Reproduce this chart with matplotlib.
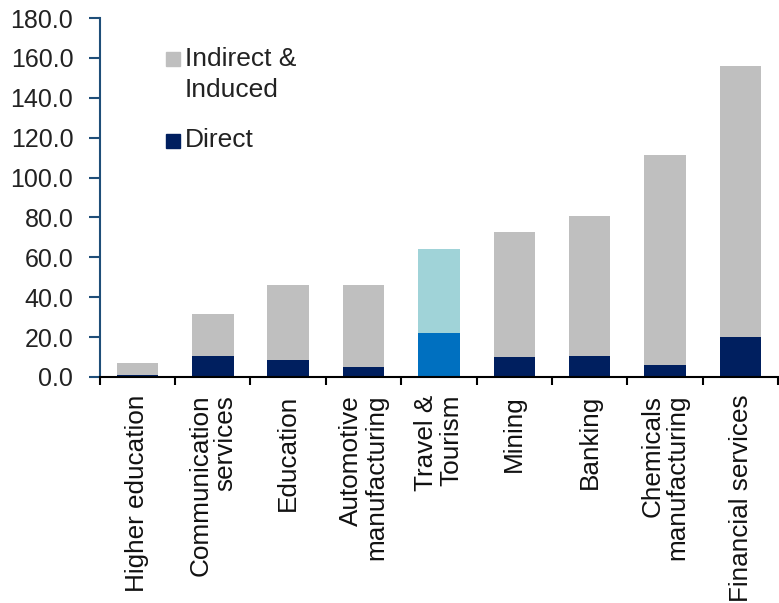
import matplotlib.pyplot as plt
from matplotlib.patches import Rectangle

plt.rcParams['font.family'] = ['Liberation Sans', 'DejaVu Sans']

# ── Data ──────────────────────────────────────────────────────────────────────
categories = [
    "Higher education", "Communication\nservices", "Education",
    "Automotive\nmanufacturing", "Travel &\nTourism", "Mining", "Banking",
    "Chemicals\nmanufacturing", "Financial services",
]
total = [7.0, 31.6, 46.3, 46.3, 64.1, 72.5, 80.6, 111.4, 155.9]
direct = [1.0, 10.3, 8.6, 5.0, 22.2, 10.1, 10.3, 6.1, 20.2]
highlight = "Travel &\nTourism"
yticks = [0, 20, 40, 60, 80, 100, 120, 140, 160, 180]

GREY = "#BFBFBF"
NAVY = "#001F5F"
HL_TOP = "#A0D3D8"
HL_BOT = "#0070C0"
AXIS = "#1F4E79"

indirect = [t - d for t, d in zip(total, direct)]
top_colors = [HL_TOP if c == highlight else GREY for c in categories]
bot_colors = [HL_BOT if c == highlight else NAVY for c in categories]

fig = plt.figure(figsize=(7.79, 6.03), dpi=100)
ax = fig.add_axes([0.128, 0.375, 0.871, 0.595])

x = list(range(len(categories)))
ax.bar(x, direct, width=0.55, color=bot_colors, zorder=2)
ax.bar(x, indirect, width=0.55, bottom=direct, color=top_colors, zorder=2)

ax.set_ylim(0, 180)
ax.set_xlim(-0.5, len(categories) - 0.5)
ax.set_yticks(yticks)
ax.set_yticklabels([f"{v:.1f}" for v in yticks], fontsize=18, color="#222222")

# category ticks sit between bars
ax.set_xticks([i - 0.5 for i in range(len(categories) + 1)])
ax.set_xticklabels([])
ax.tick_params(axis="x", length=6, width=1.5, color="black", direction="out")
ax.tick_params(axis="y", length=8, width=1.5, color=AXIS, direction="out", pad=11)

for i, label in enumerate(categories):
    ax.text(i, -0.05, label, transform=ax.get_xaxis_transform(),
            rotation=90, ha="center", va="top", multialignment="right",
            fontsize=18.8, linespacing=1.05, color="#111111")

for side in ["top", "right"]:
    ax.spines[side].set_visible(False)
ax.spines["left"].set_color(AXIS)
ax.spines["left"].set_linewidth(1.5)
ax.spines["bottom"].set_color("black")
ax.spines["bottom"].set_linewidth(1.5)

# legend drawn by hand to match the layout
fig.add_artist(Rectangle((166 / 779, 1 - 66 / 603), 14 / 779, 14 / 603,
                         transform=fig.transFigure, color=GREY))
fig.add_artist(Rectangle((166 / 779, 1 - 148 / 603), 14 / 779, 14 / 603,
                         transform=fig.transFigure, color=NAVY))
fig.text(185 / 779, 1 - 59 / 603, "Indirect &", fontsize=19, va="center", color="#222222")
fig.text(185 / 779, 1 - 90 / 603, "Induced", fontsize=19, va="center", color="#222222")
fig.text(185 / 779, 1 - 140 / 603, "Direct", fontsize=19, va="center", color="#222222")

fig.savefig("out.png", dpi=100)
